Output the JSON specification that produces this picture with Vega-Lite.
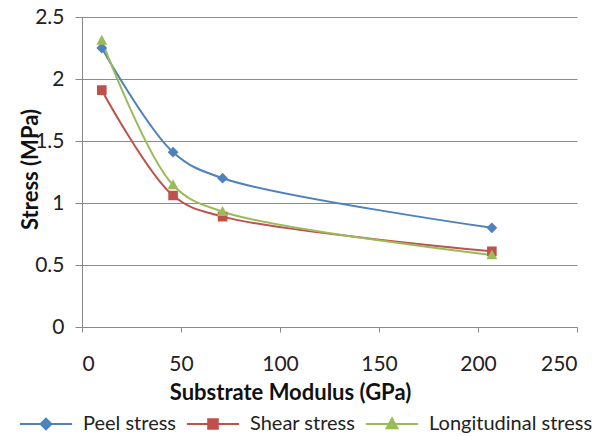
{
  "$schema": "https://vega.github.io/schema/vega-lite/v6.json",
  "width": 495,
  "height": 310,
  "autosize": "none",
  "padding": {"left": 82, "top": 17, "right": 37, "bottom": 109},
  "background": "white",
  "config": {
    "font": "Lato",
    "view": {"stroke": null}
  },
  "data": {
    "values": [
      {"modulus": 10, "stress": 2.25, "series": "Peel stress"},
      {"modulus": 46, "stress": 1.41, "series": "Peel stress"},
      {"modulus": 71, "stress": 1.20, "series": "Peel stress"},
      {"modulus": 207, "stress": 0.80, "series": "Peel stress"},
      {"modulus": 10, "stress": 1.91, "series": "Shear stress"},
      {"modulus": 46, "stress": 1.06, "series": "Shear stress"},
      {"modulus": 71, "stress": 0.89, "series": "Shear stress"},
      {"modulus": 207, "stress": 0.61, "series": "Shear stress"},
      {"modulus": 10, "stress": 2.31, "series": "Longitudinal stress"},
      {"modulus": 46, "stress": 1.145, "series": "Longitudinal stress"},
      {"modulus": 71, "stress": 0.93, "series": "Longitudinal stress"},
      {"modulus": 207, "stress": 0.58, "series": "Longitudinal stress"}
    ]
  },
  "encoding": {
    "x": {
      "field": "modulus",
      "type": "quantitative",
      "scale": {"domain": [0, 250], "nice": false},
      "axis": {
        "values": [0, 50, 100, 150, 200, 250],
        "title": "Substrate Modulus (GPa)",
        "grid": false,
        "domainColor": "#888888",
        "tickColor": "#888888",
        "tickSize": 5,
        "labelFontSize": 21,
        "labelColor": "#222222",
        "labelPadding": 21,
        "titleFontSize": 22,
        "titleFontWeight": "bold",
        "titleColor": "#111111",
        "titleX": 208,
        "titleY": 65,
        "titleBaseline": "middle"
      }
    },
    "y": {
      "field": "stress",
      "type": "quantitative",
      "scale": {"domain": [0, 2.5], "nice": false},
      "axis": {
        "values": [0, 0.5, 1, 1.5, 2, 2.5],
        "format": ".1~f",
        "title": "Stress (MPa)",
        "grid": true,
        "gridColor": "#8c8c8c",
        "domainColor": "#888888",
        "tickColor": "#888888",
        "tickSize": 7,
        "labelFontSize": 21,
        "labelColor": "#222222",
        "labelPadding": 11,
        "titleFontSize": 22,
        "titleFontWeight": "bold",
        "titleColor": "#111111",
        "titleX": -52,
        "titleY": 152,
        "titleBaseline": "middle"
      }
    }
  },
  "layer": [
    {
      "mark": {"type": "line", "interpolate": "catmull-rom", "strokeWidth": 2},
      "encoding": {
        "color": {
          "field": "series",
          "type": "nominal",
          "scale": {
            "domain": ["Peel stress", "Shear stress", "Longitudinal stress"],
            "range": ["#4F81BD", "#C0504D", "#9BBB59"]
          },
          "legend": {
            "orient": "none",
            "direction": "horizontal",
            "legendX": -70,
            "legendY": 397,
            "title": null,
            "symbolSize": 36,
            "labelFontSize": 20,
            "labelLimit": 300,
            "labelColor": "#222222",
            "labelOffset": 27,
            "columnPadding": 2,
            "symbolOffset": 24,
            "encoding": {
              "symbols": {
                "fill": {"value": {"expr": "scale('color', datum.value)"}},
                "stroke": {"value": {"expr": "scale('color', datum.value)"}},
                "fillOpacity": {"value": 1},
                "strokeOpacity": {"value": 1},
                "strokeWidth": {"value": 2},
                "opacity": {"value": 1}
              }
            }
          }
        }
      }
    },
    {
      "mark": {"type": "point", "filled": true, "opacity": 1, "size": 36, "strokeWidth": 0},
      "encoding": {
        "color": {"field": "series", "type": "nominal", "legend": null},
        "shape": {
          "field": "series",
          "type": "nominal",
          "scale": {
            "domain": ["Peel stress", "Shear stress", "Longitudinal stress"],
            "range": [
              "M-8.7,0H8.7M0,-1.8L1.8,0L0,1.8L-1.8,0Z",
              "M-8.7,0H8.7M-1.6,-1.6H1.6V1.6H-1.6Z",
              "M-8.7,0H8.7M0,-1.9L1.8,1.4H-1.8Z"
            ]
          },
          "legend": null
        }
      }
    }
  ]
}
